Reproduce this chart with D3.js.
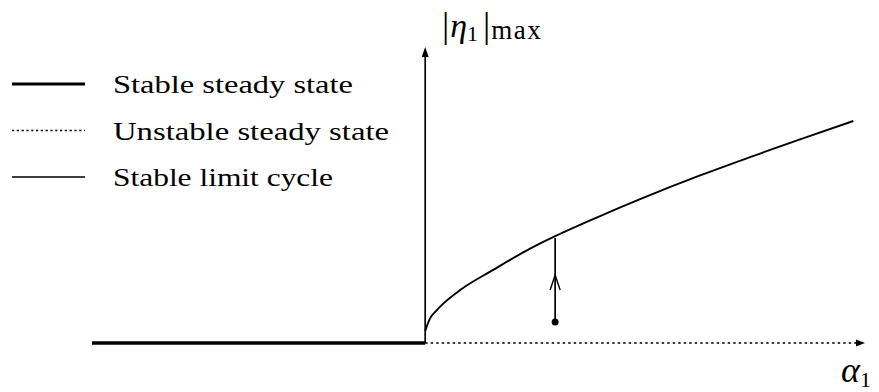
<!DOCTYPE html>
<html>
<head>
<meta charset="utf-8">
<script src="https://cdn.jsdelivr.net/npm/d3@7"></script>
<style>
  html, body { margin: 0; padding: 0; background: #fff; }
  svg { display: block; }
  text { font-family: "Liberation Serif", "DejaVu Serif", serif; fill: #000; }
</style>
</head>
<body>
<svg id="chart"></svg>
<script>
// alpha_1 extent of the two steady-state branches
const stableBranch = [-1, 0];
const unstableBranch = [0, 1.32];

// stable limit cycle amplitude |eta_1|max vs alpha_1
const cycleAlpha = [0, 0.015, 0.03, 0.06, 0.105, 0.204, 0.315, 0.39, 0.525, 0.645, 0.825, 0.975, 1.125, 1.285];
const cycleAmp   = [0.041, 0.084, 0.105, 0.139, 0.179, 0.247, 0.319, 0.361, 0.429, 0.486, 0.566, 0.628, 0.688, 0.75];

// perturbation arrow from the unstable state up to the limit cycle
const kickAlpha = 0.39;
const kickFrom = 0.071;
const kickTo = 0.355;
const kickHead = 0.23;

const legendLabels = ["Stable steady state", "Unstable steady state", "Stable limit cycle"];

const width = 879, height = 392;
const svg = d3.select("#chart").attr("width", width).attr("height", height);

const x = d3.scaleLinear().domain([-1, 1.32]).range([92, 865]);
const y = d3.scaleLinear().domain([0, 1]).range([343, 47]);

// stable steady state (thick)
svg.append("line")
  .attr("x1", x(stableBranch[0])).attr("x2", x(stableBranch[1]))
  .attr("y1", y(0)).attr("y2", y(0))
  .attr("stroke", "#000").attr("stroke-width", 3.5);

// unstable steady state (dotted) with arrow head
svg.append("line")
  .attr("x1", x(unstableBranch[0])).attr("x2", x(unstableBranch[1]) - 6)
  .attr("y1", y(0)).attr("y2", y(0))
  .attr("stroke", "#000").attr("stroke-width", 1.7)
  .attr("stroke-dasharray", "2.5,3");
svg.append("path")
  .attr("d", `M${x(unstableBranch[1])},${y(0)} l-9,-3.5 l0,7 z`)
  .attr("fill", "#000");

// vertical axis
svg.append("line")
  .attr("x1", x(0)).attr("x2", x(0))
  .attr("y1", y(0)).attr("y2", y(1) + 6)
  .attr("stroke", "#000").attr("stroke-width", 1.7);
svg.append("path")
  .attr("d", `M${x(0)},${y(1)} l-3.5,10 l7,0 z`)
  .attr("fill", "#000");

// limit cycle curve
const line = d3.line()
  .x((d, i) => x(cycleAlpha[i]))
  .y((d) => y(d))
  .curve(d3.curveMonotoneX);
svg.append("path")
  .datum(cycleAmp)
  .attr("d", line)
  .attr("fill", "none")
  .attr("stroke", "#000")
  .attr("stroke-width", 1.9);

// kick arrow
svg.append("line")
  .attr("x1", x(kickAlpha)).attr("x2", x(kickAlpha))
  .attr("y1", y(kickFrom)).attr("y2", y(kickTo))
  .attr("stroke", "#000").attr("stroke-width", 1.7);
svg.append("path")
  .attr("d", `M${x(kickAlpha) - 5},${y(kickHead) + 15} L${x(kickAlpha)},${y(kickHead)} L${x(kickAlpha) + 5},${y(kickHead) + 15}`)
  .attr("fill", "none").attr("stroke", "#000").attr("stroke-width", 1.4);
svg.append("circle")
  .attr("cx", x(kickAlpha)).attr("cy", y(kickFrom)).attr("r", 3.5)
  .attr("fill", "#000");

// axis labels
const yl = svg.append("text").attr("x", 442).attr("y", 37).style("font-size", "36px");
yl.append("tspan").text("|");
yl.append("tspan").attr("dx", 1).style("font-style", "italic").style("font-size", "34px").text("η");
yl.append("tspan").attr("dy", 4).style("font-size", "22px").text("1");
yl.append("tspan").attr("dy", -4).attr("dx", 5).text("|");
yl.append("tspan").attr("dy", 2).attr("dx", 1).style("font-size", "27px").style("letter-spacing", "1.5px").text("max");

const xl = svg.append("text").attr("x", 841).attr("y", 382).style("font-size", "36px");
xl.append("tspan").style("font-style", "italic").text("α");
xl.append("tspan").attr("dy", 5).style("font-size", "22px").text("1");

// legend
const legendY = d3.scalePoint().domain(legendLabels).range([84, 177]);
const legendStyle = [
  { w: 3.2, dash: null },
  { w: 1.6, dash: "2.2,2.6" },
  { w: 1.6, dash: null }
];
const legendWidths = [240, 276, 220];
const lg = svg.append("g");
legendLabels.forEach((label, i) => {
  lg.append("line")
    .attr("x1", 12).attr("x2", 85)
    .attr("y1", legendY(label)).attr("y2", legendY(label))
    .attr("stroke", "#000").attr("stroke-width", legendStyle[i].w)
    .attr("stroke-dasharray", legendStyle[i].dash);
  lg.append("text")
    .attr("x", 113).attr("y", legendY(label) + 9)
    .attr("textLength", legendWidths[i]).attr("lengthAdjust", "spacingAndGlyphs")
    .style("font-size", "26px")
    .text(label);
});
</script>
</body>
</html>
